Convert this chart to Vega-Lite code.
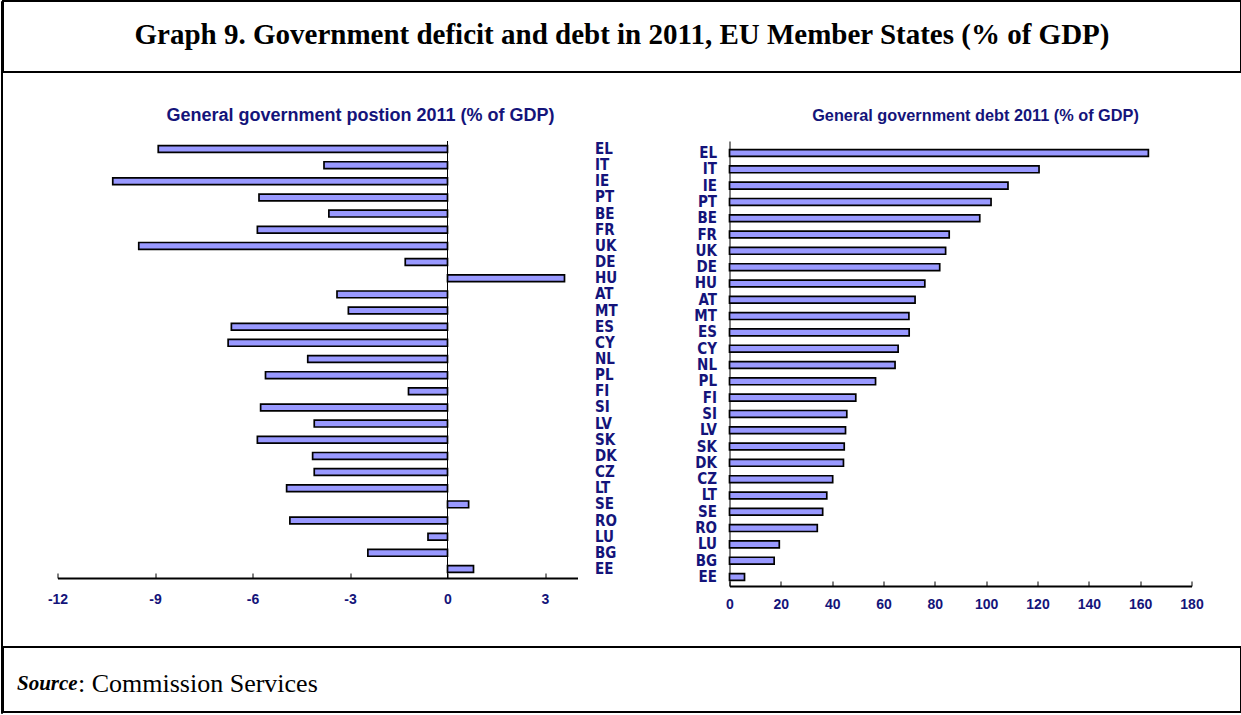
{
  "$schema": "https://vega.github.io/schema/vega-lite/v6.json",
  "padding": {"left": 0, "top": 0, "right": 0, "bottom": 0},
  "background": "white",
  "config": {"view": {"stroke": null}, "axis": {"grid": false}},
  "datasets": {
    "deficit": [
      {"country": "EL", "value": -8.9},
      {"country": "IT", "value": -3.8},
      {"country": "IE", "value": -10.3},
      {"country": "PT", "value": -5.8},
      {"country": "BE", "value": -3.65},
      {"country": "FR", "value": -5.85},
      {"country": "UK", "value": -9.5},
      {"country": "DE", "value": -1.3},
      {"country": "HU", "value": 3.6},
      {"country": "AT", "value": -3.4},
      {"country": "MT", "value": -3.05},
      {"country": "ES", "value": -6.65},
      {"country": "CY", "value": -6.75},
      {"country": "NL", "value": -4.3},
      {"country": "PL", "value": -5.6},
      {"country": "FI", "value": -1.2},
      {"country": "SI", "value": -5.75},
      {"country": "LV", "value": -4.1},
      {"country": "SK", "value": -5.85},
      {"country": "DK", "value": -4.15},
      {"country": "CZ", "value": -4.1},
      {"country": "LT", "value": -4.95},
      {"country": "SE", "value": 0.65},
      {"country": "RO", "value": -4.85},
      {"country": "LU", "value": -0.6},
      {"country": "BG", "value": -2.45},
      {"country": "EE", "value": 0.8}
    ],
    "debt": [
      {"country": "EL", "value": 163.2},
      {"country": "IT", "value": 120.6},
      {"country": "IE", "value": 108.5},
      {"country": "PT", "value": 101.9},
      {"country": "BE", "value": 97.5},
      {"country": "FR", "value": 85.6},
      {"country": "UK", "value": 84.2},
      {"country": "DE", "value": 81.9},
      {"country": "HU", "value": 76.1},
      {"country": "AT", "value": 72.3},
      {"country": "MT", "value": 69.9},
      {"country": "ES", "value": 70.0},
      {"country": "CY", "value": 65.7},
      {"country": "NL", "value": 64.5},
      {"country": "PL", "value": 56.9},
      {"country": "FI", "value": 49.2},
      {"country": "SI", "value": 45.7},
      {"country": "LV", "value": 45.2},
      {"country": "SK", "value": 44.7},
      {"country": "DK", "value": 44.4},
      {"country": "CZ", "value": 40.2},
      {"country": "LT", "value": 37.9},
      {"country": "SE", "value": 36.3},
      {"country": "RO", "value": 34.2},
      {"country": "LU", "value": 19.4},
      {"country": "BG", "value": 17.4},
      {"country": "EE", "value": 5.85}
    ]
  },
  "spacing": -3.5,
  "hconcat": [
    {
      "width": 1, "height": 712,
      "data": {"values": []},
      "mark": "point",
      "encoding": {},
      "view": {"stroke": "#000", "strokeWidth": 1}
    },
    {
      "spacing": 33,
      "vconcat": [
        {
          "width": 1238, "height": 71,
          "view": {"stroke": "#000", "strokeWidth": 2},
          "data": {"values": [{"t": "Graph 9. Government deficit and debt in 2011, EU Member States (% of GDP)"}]},
          "mark": {"type": "text", "font": "Liberation Serif", "fontWeight": "bold", "fontSize": 29, "color": "#000", "dy": -2},
          "encoding": {"text": {"field": "t", "type": "nominal"}}
        },
        {
          "spacing": 35,
          "vconcat": [
            {
              "spacing": 42.5,
              "hconcat": [
                {
                  "width": 1, "height": 1,
                  "data": {"values": []},
                  "mark": "point",
                  "encoding": {}
                },
                {
                  "spacing": 76,
                  "hconcat": [
                    {
                      "width": 520, "height": 437,
                      "title": {"text": "General government postion 2011 (% of GDP)", "font": "Liberation Sans", "fontSize": 18, "fontWeight": "bold", "color": "#14147a", "offset": 16, "dx": 43},
                      "layer": [
                        {
                          "data": {"name": "deficit"},
                          "mark": {"type": "bar", "fill": "#9999ff", "stroke": "#000", "strokeWidth": 1.7},
                          "encoding": {
                            "y": {"field": "country", "type": "nominal", "sort": null,
                              "scale": {"paddingInner": 0.58, "paddingOuter": 0.316, "align": 0.45},
                              "axis": {"orient": "right", "title": null, "domain": false, "ticks": false, "labelPadding": 17,
                                "labelFont": "'Liberation Sans Narrow', 'DejaVu Sans Condensed', 'Liberation Sans'", "labelFontSize": 15, "labelFontWeight": "bold", "labelColor": "#14147a"}},
                            "x": {"field": "value", "type": "quantitative",
                              "scale": {"domain": [-12, 4], "nice": false, "zero": false},
                              "axis": {"values": [-12, -9, -6, -3, 0, 3], "title": null, "labelExpr": "datum.value + ''", "labelFlush": false,
                                "domainColor": "#000", "domainWidth": 2, "ticks": true, "tickColor": "#000", "tickSize": -5, "tickWidth": 1,
                                "labelFont": "Liberation Sans", "labelFontSize": 14, "labelFontWeight": "bold", "labelColor": "#14147a", "labelPadding": 19.5}}
                          }
                        },
                        {
                          "data": {"values": [{}]},
                          "mark": {"type": "rule", "color": "#000", "strokeWidth": 1},
                          "encoding": {"x": {"datum": 0}}
                        }
                      ]
                    },
                    {
                      "width": 462, "height": 445,
                      "title": {"text": "General government debt 2011 (% of GDP)", "font": "Liberation Sans", "fontSize": 16.3, "fontWeight": "bold", "color": "#14147a", "offset": 17, "dx": 15},
                      "data": {"name": "debt"},
                      "mark": {"type": "bar", "fill": "#9999ff", "stroke": "#000", "strokeWidth": 1.7},
                      "encoding": {
                        "y": {"field": "country", "type": "nominal", "sort": null,
                          "scale": {"paddingInner": 0.58, "paddingOuter": 0.434, "align": 0.606},
                          "axis": {"orient": "left", "title": null, "domain": true, "domainColor": "#000", "domainWidth": 1, "ticks": false, "labelPadding": 13,
                            "labelFont": "'Liberation Sans Narrow', 'DejaVu Sans Condensed', 'Liberation Sans'", "labelFontSize": 15, "labelFontWeight": "bold", "labelColor": "#14147a"}},
                        "x": {"field": "value", "type": "quantitative",
                          "scale": {"domain": [0, 180], "nice": false},
                          "axis": {"values": [0, 20, 40, 60, 80, 100, 120, 140, 160, 180], "title": null, "labelFlush": false,
                            "domainColor": "#000", "domainWidth": 2, "ticks": true, "tickColor": "#000", "tickSize": -5, "tickWidth": 1,
                            "labelFont": "Liberation Sans", "labelFontSize": 14, "labelFontWeight": "bold", "labelColor": "#14147a", "labelPadding": 16}}
                      }
                    }
                  ]
                }
              ]
            },
            {
              "width": 1238, "height": 65,
              "view": {"stroke": "#000", "strokeWidth": 2},
              "layer": [
                {
                  "data": {"values": [{"t": "Source"}]},
                  "mark": {"type": "text", "font": "Liberation Serif", "fontWeight": "bold", "fontStyle": "italic", "fontSize": 21, "align": "left", "dx": 14, "dy": 4.5, "color": "#000"},
                  "encoding": {"text": {"field": "t", "type": "nominal"}, "x": {"value": 0}}
                },
                {
                  "data": {"values": [{"t": ": Commission Services"}]},
                  "mark": {"type": "text", "font": "Liberation Serif", "fontSize": 26, "align": "left", "dx": 75, "dy": 4.5, "color": "#000"},
                  "encoding": {"text": {"field": "t", "type": "nominal"}, "x": {"value": 0}}
                }
              ]
            }
          ]
        }
      ]
    },
    {
      "width": 1, "height": 712,
      "data": {"values": []},
      "mark": "point",
      "encoding": {},
      "view": {"stroke": "#000", "strokeWidth": 1}
    }
  ]
}
